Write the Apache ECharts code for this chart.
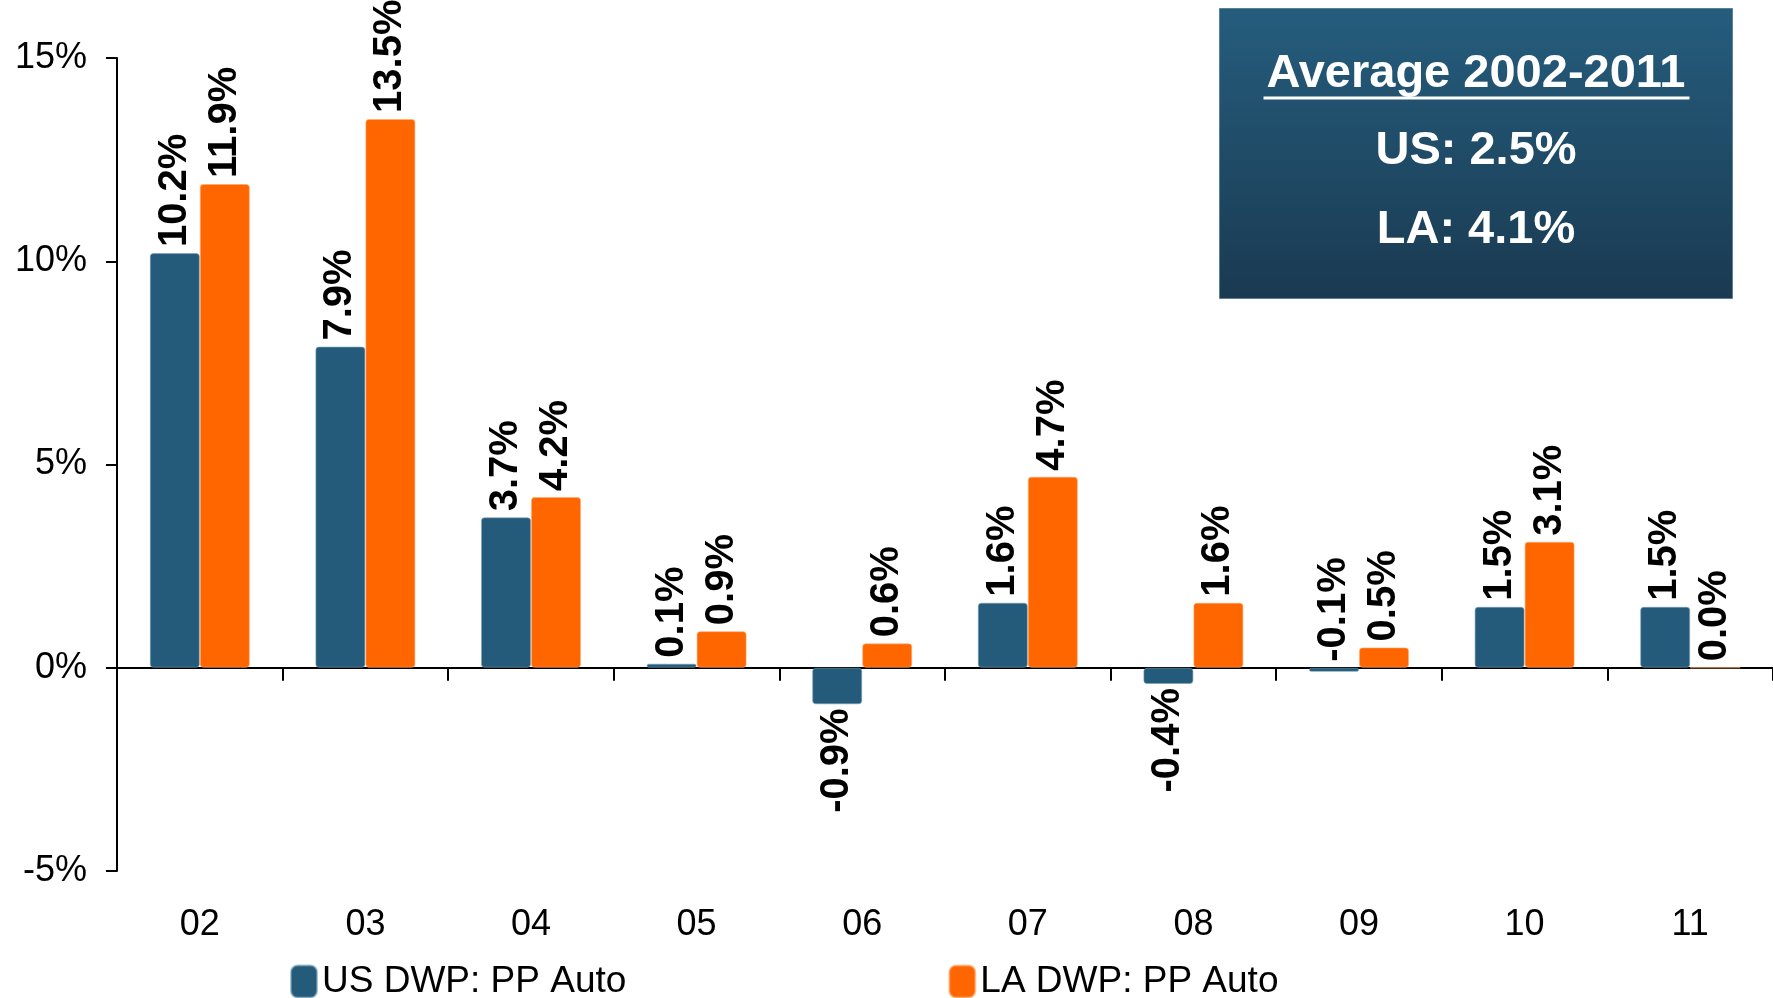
<!DOCTYPE html>
<html>
<head>
<meta charset="utf-8">
<title>DWP: PP Auto growth</title>
<script src="https://cdn.jsdelivr.net/npm/echarts@6/dist/echarts.min.js"></script>
<style>
  html, body { margin: 0; padding: 0; background: #ffffff; }
  #chart { width: 1773px; height: 998px; }
</style>
</head>
<body>
<div id="chart"></div>
<script>
// Year labels (2002-2011)
const categories = ['02', '03', '04', '05', '06', '07', '08', '09', '10', '11'];
// Annual change in direct written premium, private passenger auto (%)
const usValues = [10.2, 7.9, 3.7, 0.1, -0.9, 1.6, -0.4, -0.1, 1.5, 1.5];
const laValues = [11.9, 13.5, 4.2, 0.9, 0.6, 4.7, 1.6, 0.5, 3.1, 0.0];
const seriesNames = ['US DWP: PP Auto', 'LA DWP: PP Auto'];
// Averages for the summary panel
const avgTitle = 'Average 2002-2011';
const avgLines = ['US: 2.5%', 'LA: 4.1%'];

const FONT = '"Liberation Sans", Arial, Helvetica, sans-serif';
const US_COLOR = '#245b7a';
const LA_COLOR = '#ff6600';

// Rotated value labels: above the bar for positive values, below for negative ones.
// Very small negatives keep their label above the axis so it stays readable.
function withLabels(values) {
  return values.map(v => {
    const below = v < -0.15;
    return {
      value: v,
      label: {
        position: below ? 'bottom' : 'top',
        align: below ? 'right' : 'left',
        distance: below ? 4 : 6
      }
    };
  });
}

const labelStyle = {
  show: true,
  rotate: 90,
  verticalAlign: 'middle',
  fontFamily: FONT,
  fontWeight: 'bold',
  fontSize: 40,
  color: '#000',
  formatter: p => p.value.toFixed(1) + '%'
};

const chart = echarts.init(document.getElementById('chart'), null, { renderer: 'canvas' });

chart.setOption({
  animation: false,
  backgroundColor: '#ffffff',
  grid: { left: 117, right: -3, top: 58, bottom: 127, containLabel: false },
  legend: {
    data: seriesNames,
    left: 285,
    bottom: -7,
    icon: 'roundRect',
    itemWidth: 26,
    itemHeight: 32,
    itemGap: 322,
    textStyle: { fontFamily: FONT, fontSize: 37, color: '#000', padding: [0, 0, 0, 0] }
  },
  xAxis: [
    {
      // baseline at 0% with boundary ticks
      type: 'category',
      data: categories,
      axisLine: { show: true, onZero: true, lineStyle: { color: '#000', width: 2 } },
      axisTick: { show: true, length: 13, lineStyle: { color: '#000', width: 2 } },
      axisLabel: { show: false },
      splitLine: { show: false }
    },
    {
      // year labels along the bottom of the plot
      type: 'category',
      data: categories,
      position: 'bottom',
      axisLine: { show: false, onZero: false },
      axisTick: { show: false },
      axisLabel: { show: true, margin: 36, fontFamily: FONT, fontSize: 36, color: '#000' },
      splitLine: { show: false }
    }
  ],
  yAxis: {
    type: 'value',
    min: -5,
    max: 15,
    interval: 5,
    axisLine: { show: true, lineStyle: { color: '#000', width: 2 } },
    axisTick: { show: true, length: 11, lineStyle: { color: '#000', width: 2 } },
    axisLabel: { margin: 30, fontFamily: FONT, fontSize: 36, color: '#000', formatter: '{value}%' },
    splitLine: { show: false }
  },
  series: [
    {
      name: seriesNames[0],
      type: 'bar',
      xAxisIndex: 0,
      data: withLabels(usValues),
      barWidth: 50,
      barGap: '0%',
      itemStyle: { color: US_COLOR, borderRadius: 3, borderColor: 'rgba(120,160,185,0.6)', borderWidth: 1 },
      label: labelStyle
    },
    {
      name: seriesNames[1],
      type: 'bar',
      xAxisIndex: 0,
      data: withLabels(laValues),
      barWidth: 50,
      barGap: '0%',
      itemStyle: { color: LA_COLOR, borderRadius: 3, borderColor: 'rgba(255,170,110,0.6)', borderWidth: 1 },
      label: labelStyle
    }
  ],
  graphic: [
    {
      type: 'group',
      left: 1219,
      top: 8,
      children: [
        {
          type: 'rect',
          shape: { x: 0, y: 0, width: 513, height: 290 },
          style: {
            fill: new echarts.graphic.LinearGradient(0, 0, 0, 1, [
              { offset: 0, color: '#255d7d' },
              { offset: 1, color: '#1a3a51' }
            ]),
            stroke: '#5a7f96',
            lineWidth: 1
          }
        },
        {
          type: 'text',
          x: 256.5,
          y: 66,
          style: {
            text: avgTitle,
            fill: '#fff',
            fontFamily: FONT,
            fontWeight: 'bold',
            fontSize: 47,
            align: 'center',
            verticalAlign: 'middle'
          }
        },
        {
          type: 'rect',
          shape: { x: 44, y: 88, width: 426, height: 3 },
          style: { fill: '#fff' }
        },
        {
          type: 'text',
          x: 256.5,
          y: 143,
          style: {
            text: avgLines[0],
            fill: '#fff',
            fontFamily: FONT,
            fontWeight: 'bold',
            fontSize: 47,
            align: 'center',
            verticalAlign: 'middle'
          }
        },
        {
          type: 'text',
          x: 256.5,
          y: 222,
          style: {
            text: avgLines[1],
            fill: '#fff',
            fontFamily: FONT,
            fontWeight: 'bold',
            fontSize: 47,
            align: 'center',
            verticalAlign: 'middle'
          }
        }
      ]
    }
  ]
});
</script>
</body>
</html>
